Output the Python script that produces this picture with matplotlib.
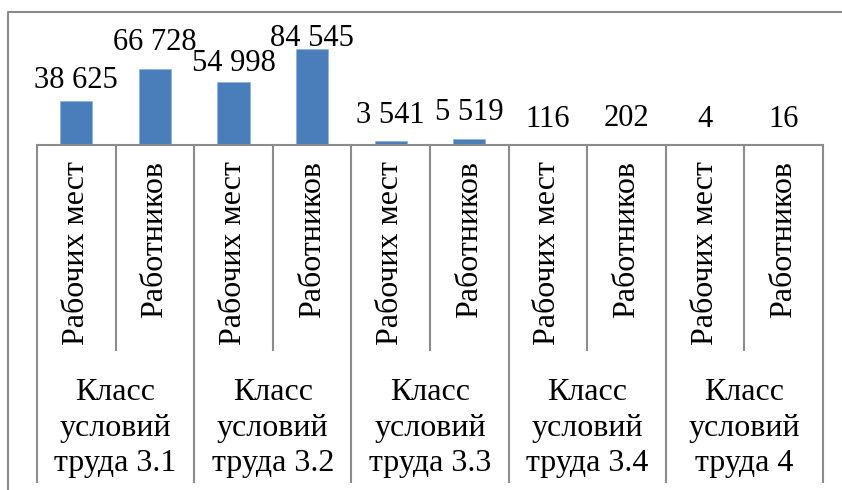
import numpy as np
import matplotlib.pyplot as plt
from matplotlib.transforms import blended_transform_factory
from matplotlib.lines import Line2D

plt.rcParams['font.family'] = ['Liberation Serif', 'DejaVu Serif']

groups = ["Класс\nусловий\nтруда 3.1", "Класс\nусловий\nтруда 3.2", "Класс\nусловий\nтруда 3.3",
          "Класс\nусловий\nтруда 3.4", "Класс\nусловий\nтруда 4"]
subcats = ["Рабочих мест", "Работников"]
values = [38625, 66728, 54998, 84545, 3541, 5519, 116, 202, 4, 16]

# сдвиг подписей над столбцами (px), часть подписей в оригинале опущена ниже
label_gap = [13, 19, 11, 3, 18, 19, 18, 19, 18, 18]

W, H = 842, 490
fig = plt.figure(figsize=(W / 100, H / 100), dpi=100)


def fy(py):
    # пиксели сверху -> доля фигуры
    return 1 - py / H


ax = fig.add_axes([37 / W, fy(145), (823 - 37) / W, 114 / H])
x = np.arange(len(values)) + 0.5
ax.bar(x, values, width=0.41, color='#4a7ebb', edgecolor='#8fb0d8', linewidth=0.5)
ax.set_xlim(0, len(values))
ax.set_ylim(0, 100000)

for xi, v, gap in zip(x, values, label_gap):
    lbl = f"{v:,}".replace(",", " ")
    ax.annotate(lbl, (xi, v), xytext=(0, gap), textcoords='offset pixels',
                ha='center', va='baseline', fontsize=22, annotation_clip=False)

for s in ['top', 'left', 'right']:
    ax.spines[s].set_visible(False)
ax.spines['bottom'].set_color('#8c8c8c')
ax.spines['bottom'].set_linewidth(1.5)
ax.set_xticks([])
ax.set_yticks([])

tr = blended_transform_factory(ax.transData, fig.transFigure)
# разделители групп и подкатегорий
for i in range(len(values) + 1):
    low = 482 if i % 2 == 0 else 350
    fig.add_artist(Line2D([i, i], [fy(145), fy(low)], transform=tr, color='#8c8c8c', lw=1.5))

for i, xi in enumerate(x):
    fig.text(xi, fy(161), subcats[i % 2], transform=tr, rotation=90,
             ha='center', va='top', fontsize=23)

for g, name in enumerate(groups):
    fig.text(2 * g + 1, fy(428), name, transform=tr, ha='center', va='center',
             fontsize=23, linespacing=1.3)

# внешняя рамка
fig.add_artist(Line2D([8 / W, 8 / W, 1], [0, fy(12), fy(12)], transform=fig.transFigure,
                      color='#8a8a8a', lw=1.5))

fig.savefig('out.png', dpi=100)
